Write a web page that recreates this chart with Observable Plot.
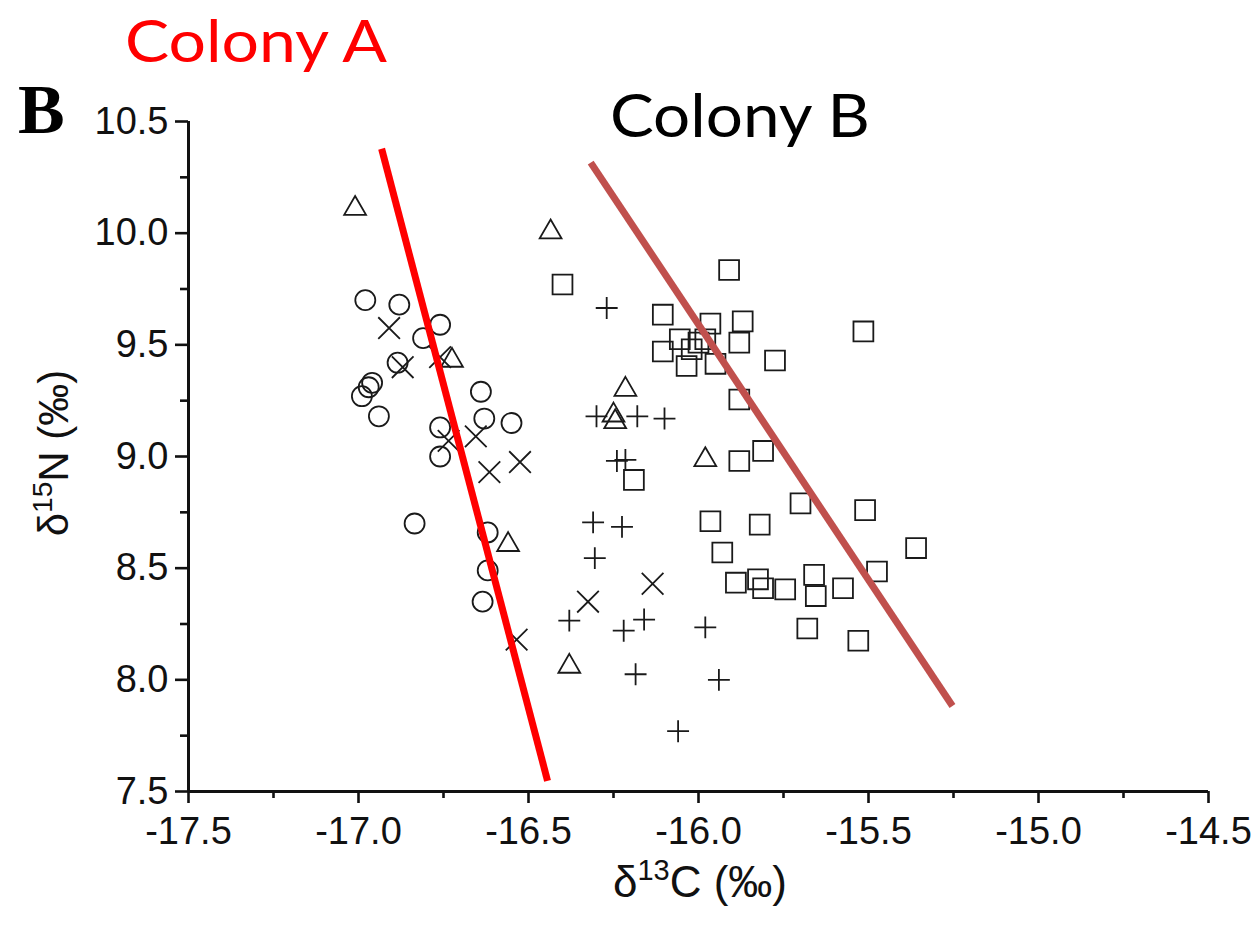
<!DOCTYPE html>
<html>
<head>
<meta charset="utf-8">
<script src="https://cdn.jsdelivr.net/npm/d3@7"></script>
<script src="https://cdn.jsdelivr.net/npm/@observablehq/plot@0.6"></script>
<style>
  html, body { margin: 0; padding: 0; background: #fff; }
  #chart { width: 1260px; height: 935px; }
</style>
</head>
<body>
<div id="chart"></div>
<script>
// ---- data ----
const xMajorTicks = [-17.5, -17.0, -16.5, -16.0, -15.5, -15.0, -14.5];
const xMinorTicks = [-17.25, -16.75, -16.25, -15.75, -15.25, -14.75];
const yMajorTicks = [7.5, 8.0, 8.5, 9.0, 9.5, 10.0, 10.5];
const yMinorTicks = [7.75, 8.25, 8.75, 9.25, 9.75, 10.25];

const circles = [
  [-16.98, 9.70], [-16.88, 9.68], [-16.76, 9.59], [-16.81, 9.53], [-16.885, 9.42],
  [-16.96, 9.33], [-16.97, 9.31], [-16.99, 9.27], [-16.94, 9.18], [-16.64, 9.29],
  [-16.63, 9.17], [-16.55, 9.15], [-16.76, 9.13], [-16.76, 9.00], [-16.835, 8.70],
  [-16.62, 8.66], [-16.62, 8.49], [-16.635, 8.35]
];
const crosses = [
  [-16.91, 9.575], [-16.87, 9.40], [-16.76, 9.445], [-16.735, 9.07], [-16.655, 9.09],
  [-16.615, 8.93], [-16.525, 8.975], [-16.535, 8.18], [-16.325, 8.35], [-16.135, 8.43]
];
const triangles = [
  [-17.01, 10.11], [-16.435, 10.005], [-16.725, 9.43], [-16.56, 8.605], [-16.38, 8.06],
  [-16.215, 9.30], [-16.25, 9.185], [-16.245, 9.155], [-15.98, 8.985]
];
const squares = [
  [-16.40, 9.77], [-15.91, 9.835], [-16.105, 9.635], [-15.965, 9.595], [-15.87, 9.605],
  [-16.055, 9.525], [-16.02, 9.48], [-16.00, 9.51], [-15.98, 9.525], [-16.105, 9.47],
  [-16.035, 9.405], [-15.95, 9.415], [-15.88, 9.51], [-15.775, 9.43], [-15.515, 9.56],
  [-15.88, 9.255], [-15.81, 9.025], [-15.88, 8.98], [-16.19, 8.895], [-15.965, 8.71],
  [-15.82, 8.695], [-15.70, 8.79], [-15.51, 8.76], [-15.36, 8.59], [-15.93, 8.57],
  [-15.89, 8.435], [-15.825, 8.45], [-15.81, 8.41], [-15.745, 8.405], [-15.66, 8.47],
  [-15.655, 8.375], [-15.575, 8.41], [-15.475, 8.485], [-15.68, 8.23], [-15.53, 8.175]
];
const pluses = [
  [-16.27, 9.665], [-16.30, 9.18], [-16.18, 9.18], [-16.10, 9.17], [-16.24, 8.98],
  [-16.215, 8.985], [-16.31, 8.705], [-16.225, 8.685], [-16.305, 8.545], [-16.38, 8.265],
  [-16.22, 8.22], [-16.16, 8.27], [-15.98, 8.235], [-16.185, 8.025], [-15.94, 8.00],
  [-16.06, 7.77]
];
const colonyALine = [[-16.932, 10.378], [-16.444, 7.548]];
const colonyBLine = [[-16.317, 10.316], [-15.253, 7.883]];

// ---- chart ----
const ink = "#1a1a1a";
const px = d => d[0], py = d => d[1];
const dotOpts = {x: px, y: py, fill: "none", stroke: ink, strokeWidth: 1.8};

const chart = Plot.plot({
  width: 1260,
  height: 935,
  marginLeft: 188,
  marginRight: 52,
  marginTop: 121,
  marginBottom: 144,
  x: {domain: [-17.5, -14.5]},
  y: {domain: [7.5, 10.5]},
  style: {fontFamily: "'Liberation Sans', Arial, sans-serif", fontSize: "37px", background: "#fff", color: "#111"},
  marks: [
    Plot.axisX({ticks: xMajorTicks, tickSize: 12, tickPadding: 14, strokeWidth: 2.6,
      tickFormat: d => d.toFixed(1), fontSize: 38, label: null}),
    Plot.axisX({ticks: xMinorTicks, tickSize: 7, strokeWidth: 2.6, tickFormat: () => "", label: null}),
    Plot.axisY({ticks: yMajorTicks, tickSize: 13, tickPadding: 7, strokeWidth: 2.6,
      tickFormat: d => d.toFixed(1), fontSize: 38, label: null}),
    Plot.axisY({ticks: yMinorTicks, tickSize: 8, strokeWidth: 2.6, tickFormat: () => "", label: null}),
    Plot.ruleY([7.5], {stroke: "#111", strokeWidth: 3}),
    Plot.ruleX([-17.5], {stroke: "#111", strokeWidth: 3}),
    Plot.dot(circles, {...dotOpts, r: 10}),
    Plot.dot(crosses, {...dotOpts, symbol: "times", r: 9.9}),
    Plot.dot(triangles, {...dotOpts, symbol: "triangle", r: 8.1}),
    Plot.dot(squares, {...dotOpts, symbol: "square", r: 11.2}),
    Plot.dot(pluses, {...dotOpts, symbol: "plus", r: 7.1}),
    Plot.line(colonyALine, {x: px, y: py, stroke: "#ff0000", strokeWidth: 7, strokeLinecap: "butt"}),
    Plot.line(colonyBLine, {x: px, y: py, stroke: "#c0504d", strokeWidth: 7, strokeLinecap: "butt"})
  ]
});

document.getElementById("chart").appendChild(chart);

// ---- annotations / axis titles ----
const svg = d3.select(chart);
const sans = "'Liberation Sans', Arial, sans-serif";

// x axis title
const xt = svg.append("text")
  .attr("x", 700).attr("y", 897)
  .attr("text-anchor", "middle")
  .attr("font-family", sans).attr("font-size", 44).attr("fill", "#111");
xt.append("tspan").text("δ");
xt.append("tspan").attr("dy", -17).attr("font-size", 29).text("13");
xt.append("tspan").attr("dy", 17).text("C (‰)");

// y axis title
const yt = svg.append("text")
  .attr("transform", "translate(68,453) rotate(-90)")
  .attr("text-anchor", "middle")
  .attr("font-family", sans).attr("font-size", 42).attr("fill", "#111");
yt.append("tspan").text("δ");
yt.append("tspan").attr("dy", -16).attr("font-size", 28).text("15");
yt.append("tspan").attr("dy", 16).text("N (‰)");

// panel letter
svg.append("text")
  .attr("x", 18).attr("y", 133)
  .attr("text-anchor", "start")
  .attr("font-family", "'Liberation Serif', 'Times New Roman', serif")
  .attr("font-weight", "bold").attr("font-size", 70).attr("fill", "#000")
  .text("B");

// colony labels
svg.append("text")
  .attr("x", 125).attr("y", 62)
  .attr("text-anchor", "start")
  .attr("font-family", "Lato, 'Open Sans', sans-serif").attr("font-size", 58)
  .attr("fill", "#ff0000")
  .attr("textLength", 262).attr("lengthAdjust", "spacingAndGlyphs")
  .text("Colony A");

svg.append("text")
  .attr("x", 610).attr("y", 137)
  .attr("text-anchor", "start")
  .attr("font-family", "Lato, 'Open Sans', sans-serif").attr("font-size", 60)
  .attr("fill", "#000")
  .attr("textLength", 260).attr("lengthAdjust", "spacingAndGlyphs")
  .text("Colony B");
</script>
</body>
</html>
